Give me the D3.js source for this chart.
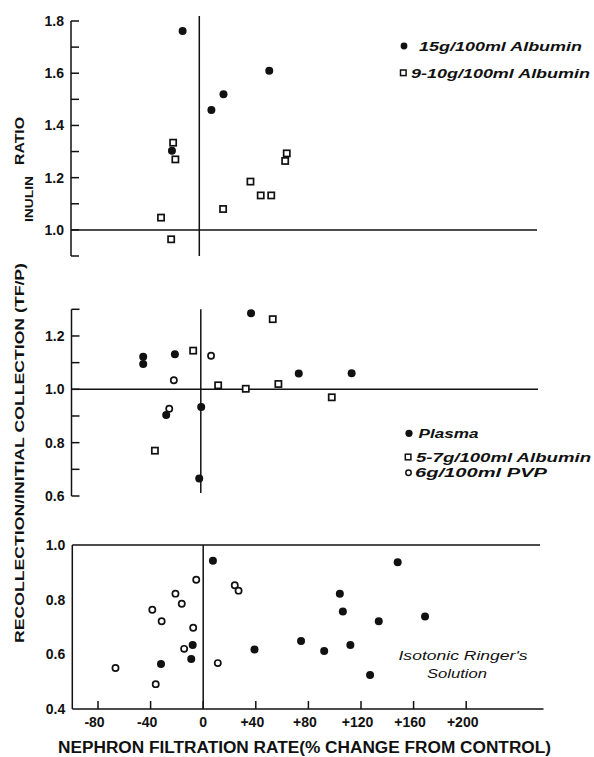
<!DOCTYPE html>
<html>
<head>
<meta charset="utf-8">
<script src="https://cdn.jsdelivr.net/npm/d3@7"></script>
<style>
  html, body { margin: 0; padding: 0; background: #fff; }
  svg { display: block; }
  text { font-family: "Liberation Sans", Arial, sans-serif; fill: #111; }
</style>
</head>
<body>
<svg id="chart" width="594" height="757"></svg>
<script>
// ---------------- DATA ----------------
const xTickValues = [-80, -40, 0, 40, 80, 120, 160, 200];
const xTickLabels = ["-80", "-40", "0", "+40", "+80", "+120", "+160", "+200"];

// Top panel
const topYTicks = [1.0, 1.2, 1.4, 1.6, 1.8];
const topYTickLabels = ["1.0", "1.2", "1.4", "1.6", "1.8"];
const topMinorTicks = [0.9, 1.0, 1.1, 1.2, 1.3, 1.4, 1.5, 1.6, 1.7, 1.8];
const topAlb15X = [-12.7, -20.8, 9.2, 18.4, 53.2];
const topAlb15Y = [1.762, 1.303, 1.459, 1.519, 1.609];
const topAlb9X = [-19.9, -18.2, -29.1, -21.4, 18.1, 38.9, 46.7, 54.7, 65.3, 66.5];
const topAlb9Y = [1.334, 1.270, 1.047, 0.964, 1.080, 1.185, 1.132, 1.132, 1.264, 1.293];
const topLegend = ["15g/100ml  Albumin", "9-10g/100ml  Albumin"];

// Middle panel
const midYTicks = [0.6, 0.8, 1.0, 1.2];
const midYTickLabels = ["0.6", "0.8", "1.0", "1.2"];
const midMinorTicks = [0.6, 0.7, 0.8, 0.9, 1.0, 1.1, 1.2, 1.3];
const midPlasmaX = [-43.8, -43.8, -19.7, -26.3, 0.3, -1.2, 38.2, 74.5, 114.7];
const midPlasmaY = [1.122, 1.095, 1.131, 0.904, 0.934, 0.666, 1.285, 1.059, 1.060];
const midAlbX = [-5.8, -34.9, 13.2, 34.2, 54.7, 59.0, 99.6];
const midAlbY = [1.145, 0.770, 1.015, 1.002, 1.263, 1.020, 0.970];
const midPvpX = [7.8, -20.5, -24.0];
const midPvpY = [1.126, 1.034, 0.927];
const midLegend = ["Plasma", "5-7g/100ml  Albumin", "6g/100ml   PVP"];

// Bottom panel
const botYTicks = [0.4, 0.6, 0.8, 1.0];
const botYTickLabels = ["0.4", "0.6", "0.8", "1.0"];
const botOpenX = [-66.7, -38.7, -31.6, -36.1, -21.1, -16.3, -14.5, -7.6, -5.3, 11.1, 24.0, 26.9];
const botOpenY = [0.550, 0.763, 0.721, 0.491, 0.822, 0.785, 0.620, 0.697, 0.873, 0.568, 0.853, 0.833];
const botFilledX = [-32.1, -8.0, -9.1, 7.4, 39.0, 74.4, 92.0, 103.9, 106.2, 111.9, 126.9, 133.5, 147.9, 168.7];
const botFilledY = [0.565, 0.634, 0.583, 0.942, 0.618, 0.649, 0.612, 0.822, 0.757, 0.634, 0.524, 0.721, 0.937, 0.738];
const botNote = ["Isotonic Ringer's", "Solution"];

const xTitle = "NEPHRON FILTRATION RATE(% CHANGE FROM CONTROL)";
const yTitleMain = "RECOLLECTION/INITIAL COLLECTION (TF/P)";
const yTitleSub = "INULIN";
const yTitleEnd = "RATIO";

// ---------------- DRAW ----------------
const svg = d3.select("#chart");
const INK = "#111";
const LW = 1.5;

function makeX(zeroPx) {
  return d3.scaleLinear().domain([0, 200]).range([zeroPx, zeroPx + 263]);
}

function line(g, x1, y1, x2, y2, w) {
  g.append("line").attr("x1", x1).attr("y1", y1).attr("x2", x2).attr("y2", y2)
    .attr("stroke", INK).attr("stroke-width", w || LW);
}

function filled(g, xs, ys, x, y) {
  g.selectAll(null).data(xs.map((d, i) => [d, ys[i]])).enter().append("circle")
    .attr("cx", d => x(d[0])).attr("cy", d => y(d[1])).attr("r", 4).attr("fill", INK);
}
function openCirc(g, xs, ys, x, y) {
  g.selectAll(null).data(xs.map((d, i) => [d, ys[i]])).enter().append("circle")
    .attr("cx", d => x(d[0])).attr("cy", d => y(d[1])).attr("r", 3.1)
    .attr("fill", "#fff").attr("stroke", INK).attr("stroke-width", 1.7);
}
function squares(g, xs, ys, x, y) {
  const s = 6.2;
  g.selectAll(null).data(xs.map((d, i) => [d, ys[i]])).enter().append("rect")
    .attr("x", d => x(d[0]) - s / 2).attr("y", d => y(d[1]) - s / 2)
    .attr("width", s).attr("height", s)
    .attr("fill", "#fff").attr("stroke", INK).attr("stroke-width", 1.7);
}

function yAxisLeft(g, y, axisX, minor, labelVals, labelTxt, withTicks) {
  const ext = d3.extent(minor.length ? minor : labelVals);
  line(g, axisX, y(ext[0]), axisX, y(ext[1]));
  if (withTicks) {
    g.selectAll(null).data(minor).enter().append("line")
      .attr("x1", axisX).attr("x2", axisX + 8)
      .attr("y1", d => y(d)).attr("y2", d => y(d))
      .attr("stroke", INK).attr("stroke-width", LW);
  }
  g.selectAll(null).data(labelVals).enter().append("text")
    .attr("x", axisX - 7).attr("y", d => y(d)).attr("dy", "0.36em")
    .attr("text-anchor", "end").attr("font-size", 14).attr("font-weight", "bold")
    .text((d, i) => labelTxt[i]);
}

// ===== Top panel =====
{
  const g = svg.append("g");
  const x = makeX(199.3);
  const y = d3.scaleLinear().domain([0.9, 1.8]).range([256, 21]);
  const axisX = 71;
  yAxisLeft(g, y, axisX, topMinorTicks, topYTicks, topYTickLabels, true);
  line(g, axisX, y(1.0), 537, y(1.0));
  line(g, x(0), 16, x(0), y(0.9));
  squares(g, topAlb9X, topAlb9Y, x, y);
  filled(g, topAlb15X, topAlb15Y, x, y);
  // legend
  const lg = g.append("g");
  lg.append("circle").attr("cx", 404).attr("cy", 46).attr("r", 3.4).attr("fill", INK);
  lg.append("rect").attr("x", 400.5).attr("y", 70).attr("width", 5.6).attr("height", 5.6)
    .attr("fill", "#fff").attr("stroke", INK).attr("stroke-width", 1.5);
  lg.append("text").attr("x", 419).attr("y", 51).attr("font-size", 13)
    .attr("font-style", "italic").attr("font-weight", "bold")
    .attr("textLength", 163).attr("lengthAdjust", "spacingAndGlyphs").text(topLegend[0]);
  lg.append("text").attr("x", 411).attr("y", 77.5).attr("font-size", 13)
    .attr("font-style", "italic").attr("font-weight", "bold")
    .attr("textLength", 179).attr("lengthAdjust", "spacingAndGlyphs").text(topLegend[1]);
}

// ===== Middle panel =====
{
  const g = svg.append("g");
  const x = makeX(200.8);
  const y = d3.scaleLinear().domain([0.6, 1.3]).range([496, 309.3]);
  const axisX = 71.5;
  yAxisLeft(g, y, axisX, midMinorTicks, midYTicks, midYTickLabels, true);
  line(g, axisX, y(1.0), 538, y(1.0));
  line(g, x(0), y(1.3), x(0), 493);
  squares(g, midAlbX, midAlbY, x, y);
  openCirc(g, midPvpX, midPvpY, x, y);
  filled(g, midPlasmaX, midPlasmaY, x, y);
  const lg = g.append("g");
  lg.append("circle").attr("cx", 409).attr("cy", 433.3).attr("r", 3.6).attr("fill", INK);
  lg.append("rect").attr("x", 405.3).attr("y", 454.2).attr("width", 5.6).attr("height", 5.6)
    .attr("fill", "#fff").attr("stroke", INK).attr("stroke-width", 1.5);
  lg.append("circle").attr("cx", 408.5).attr("cy", 472.7).attr("r", 2.7)
    .attr("fill", "#fff").attr("stroke", INK).attr("stroke-width", 1.5);
  const ys = [438, 461.5, 477];
  const xs = [418.5, 416, 415];
  const lens = [60, 175, 132];
  midLegend.forEach((t, i) => {
    lg.append("text").attr("x", xs[i]).attr("y", ys[i]).attr("font-size", 13)
      .attr("font-style", "italic").attr("font-weight", "bold")
      .attr("textLength", lens[i]).attr("lengthAdjust", "spacingAndGlyphs").text(t);
  });
}

// ===== Bottom panel =====
{
  const g = svg.append("g");
  const x = makeX(203.2);
  const y = d3.scaleLinear().domain([0.4, 1.0]).range([709, 545]);
  const axisX = 72.3;
  // box: left, top, bottom
  line(g, axisX, y(0.4), axisX, y(1.0));
  line(g, axisX, y(1.0), 540, y(1.0));
  line(g, axisX, y(0.4), 543.5, y(0.4));
  line(g, x(0), y(1.0), x(0), y(0.4));
  // y labels
  g.selectAll(null).data(botYTicks).enter().append("text")
    .attr("x", axisX - 7).attr("y", d => y(d)).attr("dy", "0.36em")
    .attr("text-anchor", "end").attr("font-size", 14).attr("font-weight", "bold")
    .text((d, i) => botYTickLabels[i]);
  // x ticks (pointing inward)
  g.selectAll(null).data(xTickValues).enter().append("line")
    .attr("x1", d => x(d)).attr("x2", d => x(d))
    .attr("y1", y(0.4)).attr("y2", y(0.4) - 8)
    .attr("stroke", INK).attr("stroke-width", LW);
  g.selectAll(null).data(xTickValues).enter().append("text")
    .attr("x", d => x(d)).attr("dx", (d, i) => xTickLabels[i].match(/^[+-]/) ? -3.5 : 0)
    .attr("y", 726.5).attr("text-anchor", "middle")
    .attr("font-size", 14).attr("font-weight", "bold")
    .text((d, i) => xTickLabels[i]);
  openCirc(g, botOpenX, botOpenY, x, y);
  filled(g, botFilledX, botFilledY, x, y);
  g.append("text").attr("x", 398.5).attr("y", 660).attr("font-size", 13.5)
    .attr("font-style", "italic").attr("textLength", 129).attr("lengthAdjust", "spacingAndGlyphs")
    .text(botNote[0]);
  g.append("text").attr("x", 427).attr("y", 677.5).attr("font-size", 13.5)
    .attr("font-style", "italic").attr("textLength", 60).attr("lengthAdjust", "spacingAndGlyphs")
    .text(botNote[1]);
}

// ===== Axis titles =====
svg.append("text").attr("x", 58).attr("y", 753).attr("font-size", 16).attr("font-weight", "bold")
  .attr("textLength", 493).attr("lengthAdjust", "spacingAndGlyphs").text(xTitle);

{
  const t = svg.append("text").attr("transform", "translate(23.5,643) rotate(-90)")
    .attr("font-weight", "bold");
  t.append("tspan").attr("x", 0).attr("y", 0).attr("font-size", 13.5)
    .attr("textLength", 380).attr("lengthAdjust", "spacingAndGlyphs").text(yTitleMain);
  t.append("tspan").attr("x", 421).attr("y", 9).attr("font-size", 10.5)
    .attr("textLength", 46).attr("lengthAdjust", "spacingAndGlyphs").text(yTitleSub);
  t.append("tspan").attr("x", 478).attr("y", 0).attr("font-size", 13.5)
    .attr("textLength", 48).attr("lengthAdjust", "spacingAndGlyphs").text(yTitleEnd);
}
</script>
</body>
</html>
